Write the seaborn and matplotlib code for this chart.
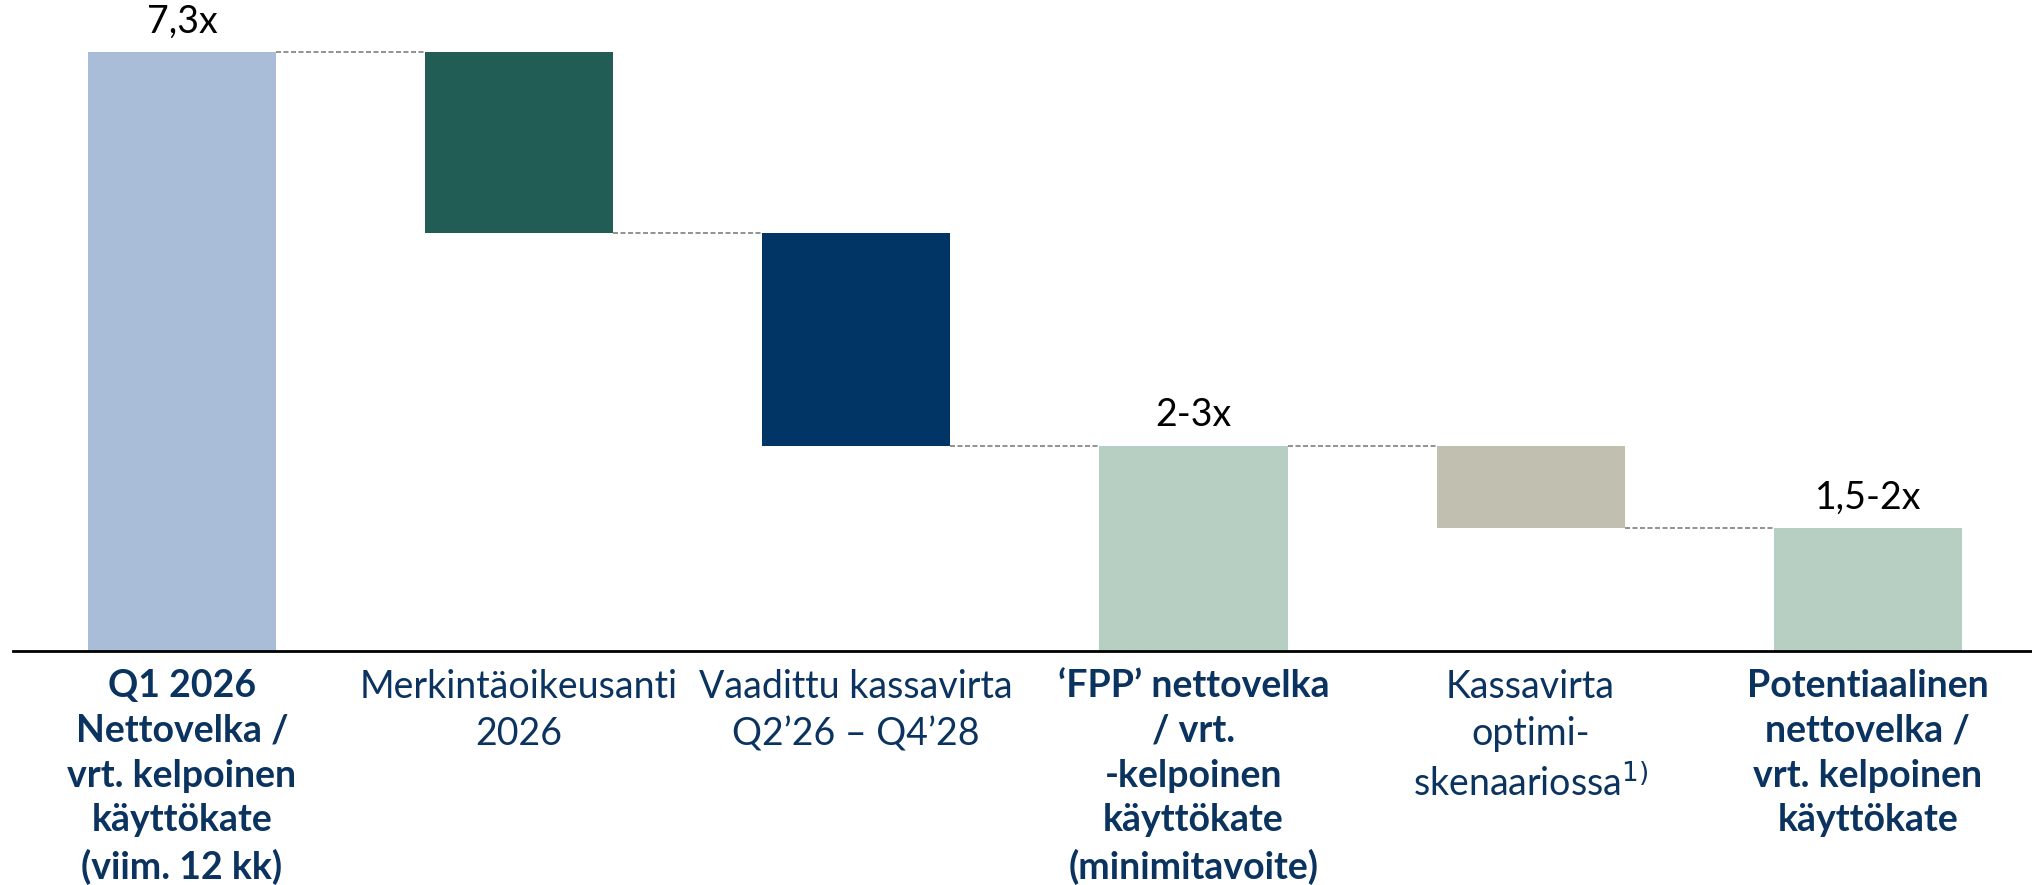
import matplotlib

matplotlib.use("Agg")
import matplotlib.pyplot as plt
import pandas as pd
import seaborn as sns

# --- data ---------------------------------------------------------------
categories = [
    "Q1 2026\nNettovelka /\nvrt. kelpoinen\nkäyttökate\n(viim. 12 kk)",
    "Merkintäoikeusanti\n2026",
    "Vaadittu kassavirta\nQ2\u201926 \u2013 Q4\u201928",
    "\u2018FPP\u2019 nettovelka\n/ vrt.\n-kelpoinen\nkäyttökate\n(minimitavoite)",
    "Kassavirta\noptimi-\nskenaariossa$^{1)}$",
    "Potentiaalinen\nnettovelka /\nvrt. kelpoinen\nkäyttökate",
]
changes = [7.3, -2.2, -2.6, 2.5, -1.0, 1.5]
is_total = [True, False, False, True, False, True]
value_labels = ["7,3x", "", "", "2-3x", "", "1,5-2x"]
bold_label = [True, False, False, True, False, True]
colors = ["#A9BDD8", "#215C55", "#003566", "#B7CEC2", "#C1BFB0", "#B7CEC2"]

# waterfall: totals start at 0, steps float from the running level
bottoms, heights, running = [], [], 0.0
for ch, tot in zip(changes, is_total):
    if tot:
        bottoms.append(0.0)
        heights.append(ch)
        running = ch
    else:
        bottoms.append(running + ch)
        heights.append(-ch)
        running = running + ch
tops = [b + h for b, h in zip(bottoms, heights)]

df = pd.DataFrame({"cat": categories, "height": heights, "bottom": bottoms})

sns.set_theme(style="white")
plt.rcParams["font.family"] = ["Lato", "DejaVu Sans"]

LABEL_COLOR = "#0B3360"
BAR_W = 0.558

fig = plt.figure(figsize=(20.33, 8.85), dpi=100)
ax = fig.add_axes([0.0064, 0.2644, 0.9936, 0.7356])

sns.barplot(data=df, x="cat", y="height", bottom=df["bottom"].values,
            width=BAR_W, ax=ax, color=colors[0], saturation=1, linewidth=0)
for patch, c in zip(ax.patches, colors):
    patch.set_facecolor(c)

# dashed connectors between bars (running level after each bar)
for i in range(len(categories) - 1):
    lvl = tops[i] if is_total[i] else bottoms[i]
    ax.hlines(lvl, i + BAR_W / 2, i + 1 - BAR_W / 2, colors="#7F7F7F",
              linestyles=(0, (3, 1.5)), linewidth=1.2)

# value labels above totals
for i, txt in enumerate(value_labels):
    if txt:
        ax.annotate(txt, (i, tops[i]), xytext=(0, 9), textcoords="offset points",
                    ha="center", va="bottom", fontsize=27, color="black")

# category labels below the axis
for i, lab in enumerate(categories):
    ax.text(i, -0.028, lab, transform=ax.get_xaxis_transform(), ha="center", va="top",
            fontsize=27, color=LABEL_COLOR, linespacing=1.38,
            fontweight="bold" if bold_label[i] else "normal")

ax.set_xlim(-0.501, 5.49)
ax.set_ylim(0, 7.934)
ax.set_xticks([])
ax.set_yticks([])
ax.set_xlabel("")
ax.set_ylabel("")
for side in ["top", "right", "left"]:
    ax.spines[side].set_visible(False)
ax.spines["bottom"].set_color("black")
ax.spines["bottom"].set_linewidth(2)

fig.savefig("out.png", dpi=100)
